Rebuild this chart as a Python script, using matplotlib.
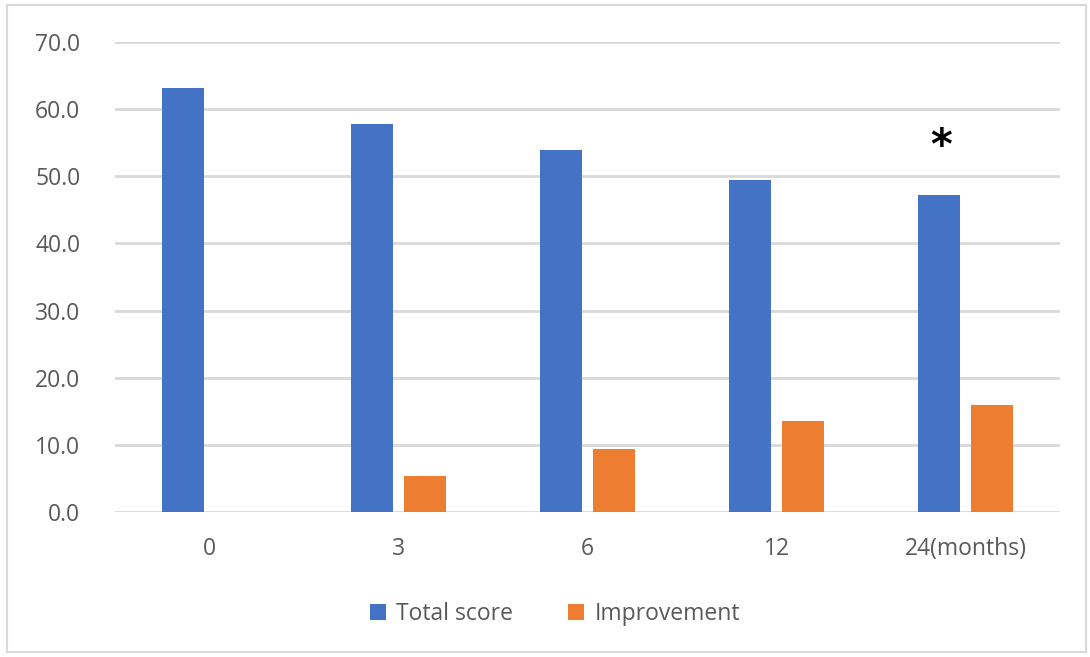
import matplotlib.pyplot as plt
import numpy as np
from matplotlib.patches import Rectangle

# data
categories = ['0', '3', '6', '12', '24(months)']
total_score = [63.1, 57.8, 53.9, 49.5, 47.2]
improvement = [0.0, 5.4, 9.4, 13.6, 16.0]

plt.rcParams['font.family'] = ['Open Sans', 'DejaVu Sans']

fig = plt.figure(figsize=(10.9, 6.57), dpi=100)
ax = fig.add_axes([0.1055, 0.2207, 0.867, 0.7154])

x = np.arange(len(categories))
width = 0.223
offset = 0.141
ax.bar(x - offset, total_score, width, color='#4472C4', label='Total score', zorder=3)
ax.bar(x + offset, improvement, width, color='#ED7D31', label='Improvement', zorder=3)

# significance marker over the last total score bar
ax.text(x[-1] - offset + 0.01, 54.3, '*', ha='center', va='center',
        fontsize=30, fontweight='bold', color='black', family='DejaVu Sans')

ax.set_xlim(-0.5, len(categories) - 0.5)
ax.set_ylim(0, 70)
ax.set_yticks(np.arange(0, 71, 10))
ax.set_yticklabels([f'{v:.1f}' for v in np.arange(0, 71, 10)])
ax.set_xticks(x)
ax.set_xticklabels(categories)
ax.tick_params(axis='both', length=0, labelsize=16.5, labelcolor='#595959')
ax.tick_params(axis='y', pad=25)
ax.tick_params(axis='x', pad=18)
ax.grid(axis='y', color='#d9d9d9', linewidth=2, zorder=0)
for s in ax.spines.values():
    s.set_visible(False)

fig.legend(loc='center', bbox_to_anchor=(0.509, 0.066), ncol=2, frameon=False,
           fontsize=16.5, handlelength=0.7, handleheight=0.7, handletextpad=0.45,
           columnspacing=2.4, labelcolor='#595959')

# light frame around the whole chart
fig.patches.append(Rectangle((0.006, 0.008), 0.99, 0.984, transform=fig.transFigure,
                             fill=False, edgecolor='#d9d9d9', linewidth=1.5))

fig.savefig('out.png')
